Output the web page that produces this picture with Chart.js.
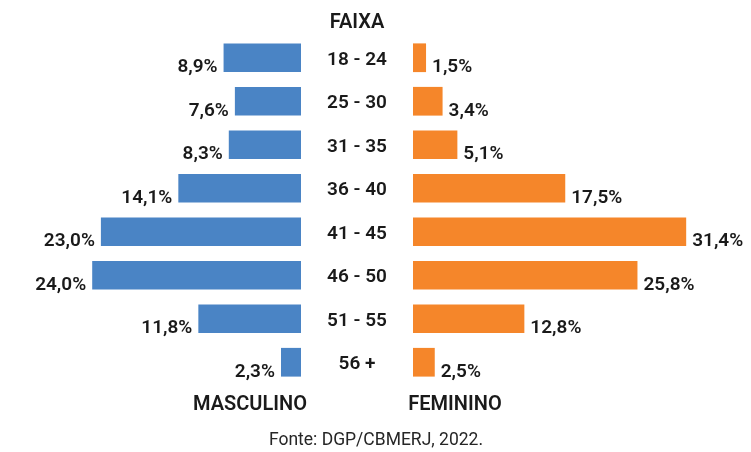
<!DOCTYPE html>
<html>
<head>
<meta charset="utf-8">
<script src="https://cdn.jsdelivr.net/npm/chart.js@4.4.0/dist/chart.umd.min.js"></script>
<style>
    body { margin: 0; background: #fff; }
    #wrap { position: relative; width: 751px; height: 452px; font-family: Roboto, sans-serif; color: #1a1a1a; }
    #wrap canvas { position: absolute; top: 0; }
    .txt { position: absolute; transform: translateX(-50%); white-space: nowrap; line-height: 1; }
    .head { font-size: 20px; font-weight: 600; }
    .fonte { font-size: 17.5px; color: #262626; }
</style>
</head>
<body>
<div id="wrap">
    <canvas id="male" width="301" height="452" style="left:0"></canvas>
    <canvas id="female" width="450" height="452" style="left:301px"></canvas>
    <div class="txt head" style="left:357px; top:11px">FAIXA</div>
    <div class="txt head" style="left:250px; top:393px">MASCULINO</div>
    <div class="txt head" style="left:455px; top:393px">FEMININO</div>
    <div class="txt fonte" style="left:376px; top:431px">Fonte: DGP/CBMERJ, 2022.</div>
</div>
<script>
const categories = ['18 - 24', '25 - 30', '31 - 35', '36 - 40', '41 - 45', '46 - 50', '51 - 55', '56 +'];
const masculino = [8.9, 7.6, 8.3, 14.1, 23.0, 24.0, 11.8, 2.3];
const feminino = [1.5, 3.4, 5.1, 17.5, 31.4, 25.8, 12.8, 2.5];

const BLUE = '#4a84c5';
const ORANGE = '#f5862a';
const TEXT = '#1a1a1a';
const PX_PER_UNIT = 8.7;

function fmt(v) {
    return v.toFixed(1).replace('.', ',') + '%';
}

// value labels at the end of each bar, baseline on the bar's bottom edge
function valueLabels(side) {
    return {
        id: 'valueLabels',
        afterDatasetsDraw(chart) {
            const { ctx } = chart;
            const meta = chart.getDatasetMeta(0);
            const values = chart.data.datasets[0].data;
            ctx.save();
            ctx.font = '600 19px Roboto';
            ctx.fillStyle = TEXT;
            ctx.textBaseline = 'alphabetic';
            ctx.textAlign = side === 'left' ? 'right' : 'left';
            meta.data.forEach((bar, i) => {
                const { x, y, height } = bar.getProps(['x', 'y', 'height'], true);
                const tx = side === 'left' ? x - 6 : x + 6;
                ctx.fillText(fmt(values[i]), tx, y + height / 2);
            });
            ctx.restore();
        }
    };
}

// age range labels in the gap between the two sides
const rangeLabels = {
    id: 'rangeLabels',
    afterDraw(chart) {
        const { ctx, chartArea } = chart;
        const yScale = chart.scales.y;
        ctx.save();
        ctx.font = '600 19px Roboto';
        ctx.fillStyle = TEXT;
        ctx.textAlign = 'center';
        ctx.textBaseline = 'middle';
        categories.forEach((c, i) => {
            ctx.fillText(c, chartArea.left - 56, yScale.getPixelForValue(i) + 2);
        });
        ctx.restore();
    }
};

function makeChart(id, values, color, side, padLeft, width) {
    return new Chart(document.getElementById(id), {
        type: 'bar',
        data: {
            labels: categories,
            datasets: [{
                data: values,
                backgroundColor: color,
                borderWidth: 0,
                barPercentage: 0.66,
                categoryPercentage: 1
            }]
        },
        options: {
            indexAxis: 'y',
            responsive: false,
            animation: false,
            layout: { padding: { left: padLeft, right: 0, top: 36, bottom: 68 } },
            plugins: { legend: { display: false }, tooltip: { enabled: false } },
            scales: {
                x: {
                    display: false,
                    min: 0,
                    max: (width - padLeft) / PX_PER_UNIT,
                    reverse: side === 'left'
                },
                y: { display: false, offset: true }
            }
        },
        plugins: side === 'left' ? [valueLabels('left')] : [valueLabels('right'), rangeLabels]
    });
}

makeChart('male', masculino, BLUE, 'left', 0, 301);
makeChart('female', feminino, ORANGE, 'right', 112, 450);
</script>
</body>
</html>
